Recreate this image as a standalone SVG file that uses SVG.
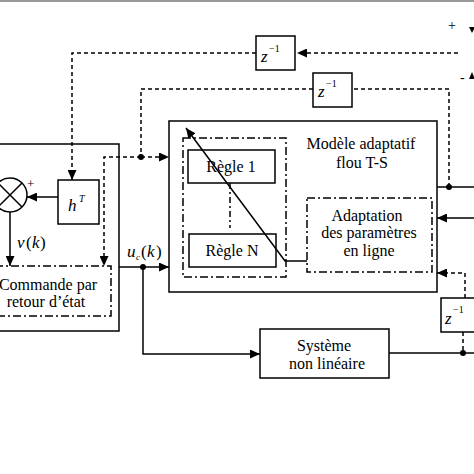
<svg xmlns="http://www.w3.org/2000/svg" width="474" height="474" viewBox="0 0 474 474">
<defs>
<marker id="arr" markerUnits="userSpaceOnUse" markerWidth="10" markerHeight="9" refX="10" refY="4.5" orient="auto">
<path d="M0,0 L10,4.5 L0,9 z" fill="#000"/>
</marker>
</defs>
<style>
.box{fill:none;stroke:#000;stroke-width:1.5}
.dd{fill:none;stroke:#000;stroke-width:1.5;stroke-dasharray:8,3,2,3}
.ln{fill:none;stroke:#000;stroke-width:1.5}
.ds{fill:none;stroke:#000;stroke-width:1.5;stroke-dasharray:4,3}
.t{font-family:"Liberation Serif","Times New Roman",serif;font-size:16px;fill:#000}
.m{font-family:"Liberation Serif","Times New Roman",serif;font-size:17px;font-style:italic;fill:#000}
.s{font-family:"Liberation Serif","Times New Roman",serif;font-size:10px;fill:#000}
</style>
<rect x="0" y="0" width="474" height="474" fill="#fff"/>
<rect x="0" y="0" width="474" height="2" fill="#999"/>

<g id="controller">
<rect class="box" x="-5" y="144" width="124" height="187"/>
</g>
<g id="sum">
<circle class="box" cx="10" cy="195" r="17"/>
<path class="ln" d="M-2,183 L22,207 M22,183 L-2,207"/>
<text class="s" x="27" y="188" style="font-size:13px">+</text>
</g>
<g id="hT">
<rect class="box" x="58" y="180" width="41" height="44"/>
<text class="m" x="68" y="211">h</text>
<text class="s" x="79" y="202" style="font-style:italic">T</text>
</g>
<g id="commande">
<rect class="dd" x="-5" y="266" width="116" height="50"/>
<text class="t" x="48" y="290" text-anchor="middle">Commande par</text>
<text class="t" x="46" y="307" text-anchor="middle">retour d’état</text>
</g>
<g id="modele">
<rect class="box" x="169" y="121" width="268" height="171"/>
<text class="t" x="361" y="149" text-anchor="middle">Modèle adaptatif</text>
<text class="t" x="362" y="168" text-anchor="middle">flou T-S</text>
</g>
<g id="regles">
<rect class="dd" x="183" y="138" width="103" height="139"/>
</g>
<g id="regle1">
<rect class="box" x="188" y="150" width="87" height="33"/>
<text class="t" x="231" y="172" text-anchor="middle">Règle 1</text>
</g>
<g id="regleN">
<rect class="box" x="189" y="234" width="87" height="33"/>
<text class="t" x="232" y="256" text-anchor="middle">Règle N</text>
</g>
<g id="adaptation">
<rect class="dd" x="307" y="198" width="125" height="74"/>
<text class="t" x="367" y="221" text-anchor="middle">Adaptation</text>
<text class="t" x="369" y="238" text-anchor="middle">des paramètres</text>
<text class="t" x="369" y="256" text-anchor="middle">en ligne</text>
</g>
<g id="systeme">
<rect class="box" x="260" y="329" width="129" height="49"/>
<text class="t" x="324" y="351" text-anchor="middle">Système</text>
<text class="t" x="327" y="369" text-anchor="middle">non linéaire</text>
</g>
<g id="z1">
<rect class="box" x="256" y="36" width="39" height="34"/>
<text class="m" x="261" y="62">z</text>
<text class="s" x="269" y="52">−1</text>
</g>
<g id="z2">
<rect class="box" x="313" y="73" width="39" height="34"/>
<text class="m" x="318" y="97">z</text>
<text class="s" x="326" y="87">−1</text>
</g>
<g id="z3">
<rect class="box" x="441" y="298" width="40" height="34"/>
<text class="m" x="445" y="324">z</text>
<text class="s" x="453" y="313">−1</text>
</g>

<g id="connectors">
<path class="ds" d="M458,53 L297,53" marker-end="url(#arr)"/>
<path class="ds" d="M256,53 L72,53 L72,180" marker-end="url(#arr)"/>
<path class="ds" d="M449,187 L449,89 L352,89"/>
<path class="ds" d="M313,89 L141,89 L141,157"/>
<path class="ds" d="M141,157 L169,157" marker-end="url(#arr)"/>
<path class="ds" d="M141,157 L104,157 L104,266" marker-end="url(#arr)"/>
<circle cx="141" cy="157" r="3" fill="#000"/>
<path class="ln" d="M437,187 L474,187"/>
<circle cx="449" cy="187" r="3" fill="#000"/>
<path class="ln" d="M474,218 L437,218" marker-end="url(#arr)"/>
<path class="ds" d="M465,298 L465,273 L437,273" marker-end="url(#arr)"/>
<path class="ds" d="M463,332 L463,353"/>
<path class="ln" d="M389,353 L474,353"/>
<circle cx="463" cy="353" r="3" fill="#000"/>
<path class="ln" d="M58,197 L27,197" marker-end="url(#arr)"/>
<path class="ln" d="M10,212 L10,266" marker-end="url(#arr)"/>
<path class="ln" d="M119,267 L169,267" marker-end="url(#arr)"/>
<circle cx="143" cy="267" r="3" fill="#000"/>
<path class="ln" d="M143,267 L143,354 L260,354" marker-end="url(#arr)"/>
<path class="ln" d="M307,261 L285,261 L186,128" marker-end="url(#arr)"/>
<path class="dd" d="M230,183 L230,228" style="stroke-dasharray:6,3,2,3"/>
<path d="M469,27 L475,27 L472,33 z" fill="#000"/>
<path d="M469,79 L475,79 L472,72 z" fill="#000"/>
</g>
<text class="s" x="448" y="30" style="font-size:14px">+</text>
<text class="s" x="460" y="82" style="font-size:14px">-</text>
<text class="m" x="17" y="248">v</text>
<text class="t" x="26" y="248" style="font-size:17px">(</text>
<text class="m" x="32" y="248">k</text>
<text class="t" x="40" y="248" style="font-size:17px">)</text>
<text class="m" x="127" y="257">u</text>
<text class="s" x="136" y="260" style="font-style:italic;font-size:9px">c</text>
<text class="t" x="141" y="257" style="font-size:17px">(</text>
<text class="m" x="147" y="257">k</text>
<text class="t" x="156" y="257" style="font-size:17px">)</text>
</svg>
